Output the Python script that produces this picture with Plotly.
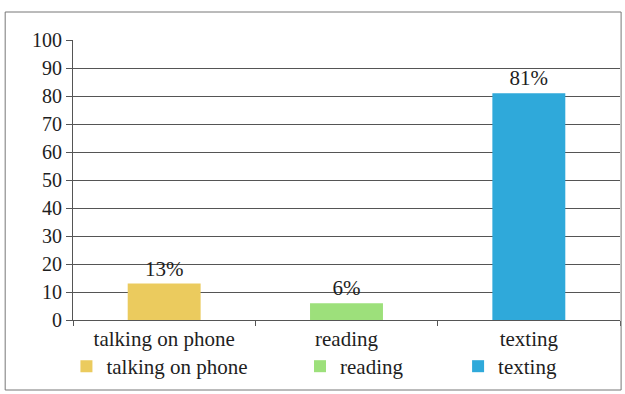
import plotly.graph_objects as go

# Share of respondents by activity
categories = ["talking on phone", "reading", "texting"]
values = [13, 6, 81]
colors = ["#EBCB5E", "#9DE07B", "#2FA9DA"]
y_ticks = [0, 10, 20, 30, 40, 50, 60, 70, 80, 90, 100]

FONT = "Liberation Serif"
TXT = "#1e1e1e"

# each bar gets its own legend box so the entries can sit under the chart freely
legend_ids = ["legend", "legend2", "legend3"]
legend_x = [-0.012, 0.415, 0.704]

fig = go.Figure()
for cat, val, col, lid in zip(categories, values, colors, legend_ids):
    fig.add_trace(go.Bar(
        x=[cat], y=[val], name=cat, legend=lid,
        marker=dict(color=col, line=dict(width=0)),
        width=0.4,
        text=[f"{val}%"], textposition="outside",
        textfont=dict(family=FONT, size=21, color=TXT),
        cliponaxis=False,
    ))

legend_common = dict(orientation="h", yanchor="top", xanchor="left", y=-0.093,
                      font=dict(family=FONT, size=21, color=TXT),
                      itemwidth=30, bgcolor="rgba(0,0,0,0)")

fig.update_layout(
    width=625, height=394,
    margin=dict(l=73, r=5, t=40, b=74, autoexpand=False),
    paper_bgcolor="white", plot_bgcolor="white",
    barmode="overlay",
    font=dict(family=FONT, size=21, color=TXT),
    showlegend=True,
    legend=dict(x=legend_x[0], **legend_common),
    legend2=dict(x=legend_x[1], **legend_common),
    legend3=dict(x=legend_x[2], **legend_common),
    xaxis=dict(
        categoryorder="array", categoryarray=categories,
        showline=True, linecolor="#555", linewidth=1,
        ticks="outside", tickson="boundaries", ticklen=5, tickcolor="#555",
        showgrid=False, tickfont=dict(family=FONT, size=21, color=TXT),
    ),
    yaxis=dict(
        range=[0, 100], tickvals=y_ticks,
        showline=True, linecolor="#555", linewidth=1,
        ticks="outside", ticklen=6, tickcolor="#555",
        showgrid=True, gridcolor="#555", gridwidth=1,
        zeroline=False,
        tickfont=dict(family=FONT, size=20, color=TXT),
    ),
    shapes=[dict(type="rect", xref="paper", yref="paper",
                 x0=-0.124, x1=1.002, y0=-0.25, y1=1.1,
                 line=dict(color="#777", width=1))],
)

fig.write_html("out.html")
